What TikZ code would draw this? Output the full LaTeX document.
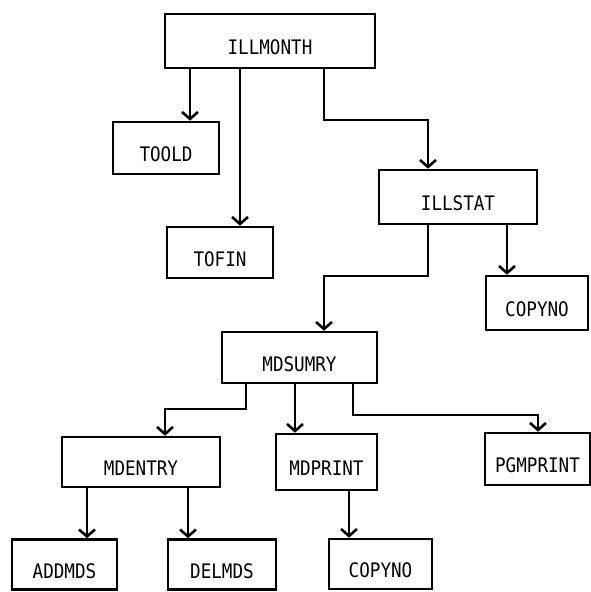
\documentclass[tikz,border=0pt]{standalone}
\usepackage{fontspec}
\newfontfamily\boxfont[FakeStretch=0.88]{DejaVu Sans Mono}
\usetikzlibrary{arrows.meta}
\begin{document}
\begin{tikzpicture}[x=1pt,y=-1pt,line width=2.6pt,
  box/.style={draw,rectangle,inner sep=0pt,font=\boxfont\fontsize{20}{22}\selectfont,text height=27pt,text depth=0pt},
  arr/.style={-{Straight Barb[length=7pt,width=16pt]}}]
\useasboundingbox (0,0) rectangle (591,592);
\node [box,minimum width=210pt,minimum height=54pt] (illmonth) at (270,41) {ILLMONTH};
\node [box,minimum width=106pt,minimum height=52pt] (toold) at (166,148) {TOOLD};
\node [box,minimum width=106pt,minimum height=51pt] (tofin) at (220,252.5) {TOFIN};
\node [box,minimum width=158pt,minimum height=54pt] (illstat) at (458,197) {ILLSTAT};
\node [box,minimum width=102pt,minimum height=54pt] (copynoa) at (537,303) {COPYNO};
\node [box,minimum width=155pt,minimum height=51pt] (mdsumry) at (299.5,357.5) {MDSUMRY};
\node [box,minimum width=158pt,minimum height=50pt] (mdentry) at (141,462) {MDENTRY};
\node [box,minimum width=101pt,minimum height=56pt] (mdprint) at (326.5,462) {MDPRINT};
\node [box,minimum width=105pt,minimum height=52pt] (pgmprint) at (537.5,459) {PGMPRINT};
\node [box,minimum width=105pt,minimum height=50pt] (addmds) at (64.5,564.5) {ADDMDS};
\node [box,minimum width=108pt,minimum height=50pt] (delmds) at (222,564.5) {DELMDS};
\node [box,minimum width=103pt,minimum height=50pt] (copynob) at (380.5,564) {COPYNO};
% ILLMONTH
\draw [arr] (illmonth.south -| 190,0) -- (toold.north -| 190,0);
\draw [arr] (illmonth.south -| 240,0) -- (tofin.north -| 240,0);
\draw [arr] (illmonth.south -| 324,0) -- (324,120) -| (illstat.north -| 428,0);
% ILLSTAT
\draw [arr] (illstat.south -| 428,0) -- (428,276) -| (mdsumry.north -| 324,0);
\draw [arr] (illstat.south -| 507,0) -- (copynoa.north -| 507,0);
% MDSUMRY
\draw [arr] (mdsumry.south -| 246,0) -- (246,409) -| (mdentry.north -| 165,0);
\draw [arr] (mdsumry.south -| 295,0) -- (mdprint.north -| 295,0);
\draw [arr] (mdsumry.south -| 353,0) -- (353,415) -| (pgmprint.north -| 538,0);
% MDENTRY, MDPRINT
\draw [arr] (mdentry.south -| 87,0) -- (addmds.north -| 87,0);
\draw [arr] (mdentry.south -| 188,0) -- (delmds.north -| 188,0);
\draw [arr] (mdprint.south -| 349,0) -- (copynob.north -| 349,0);
\end{tikzpicture}
\end{document}
